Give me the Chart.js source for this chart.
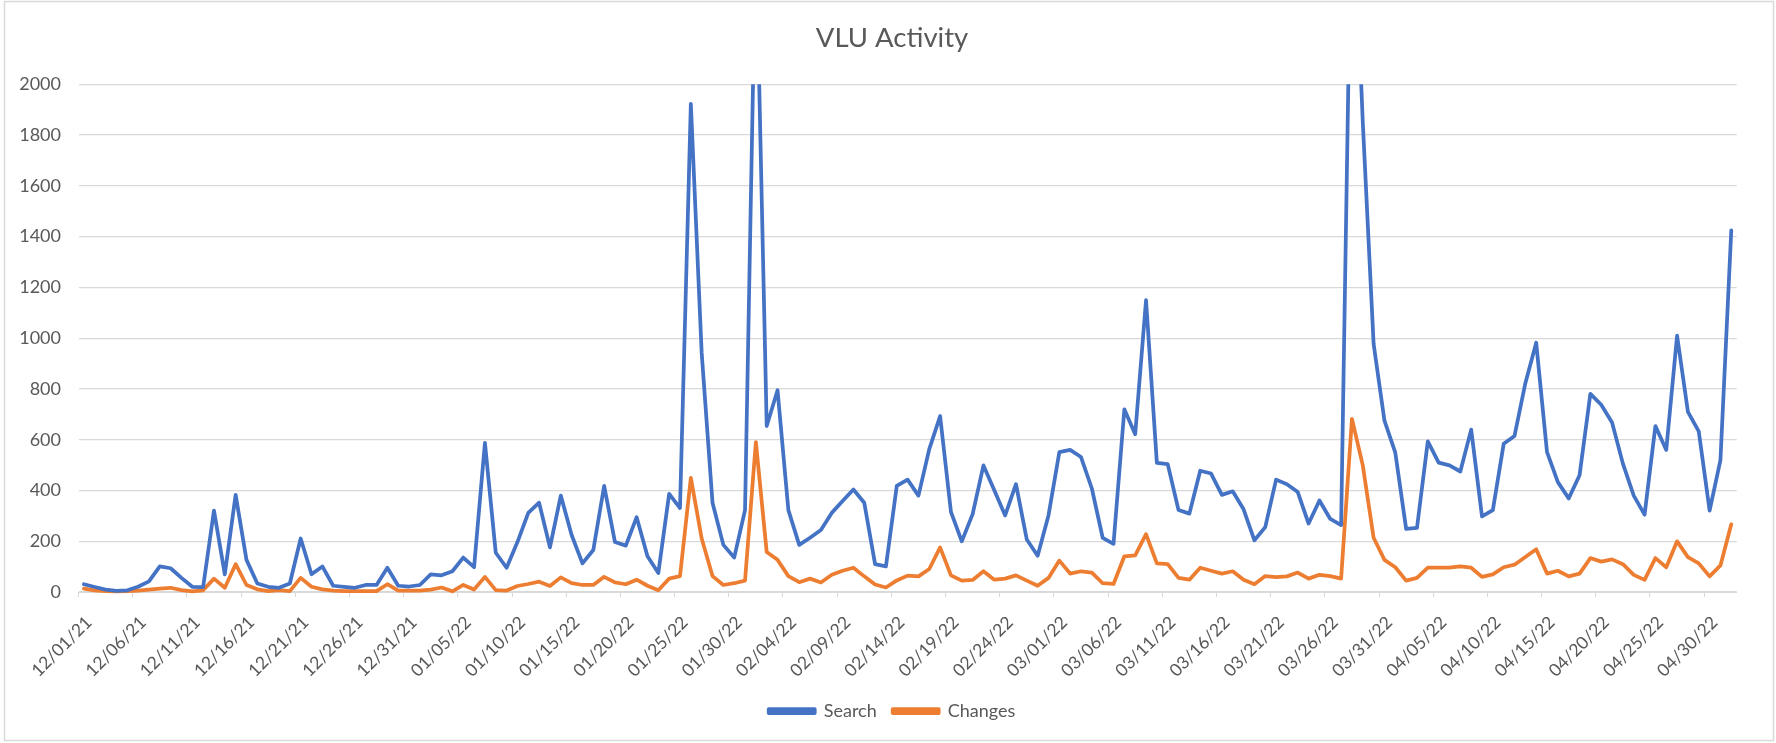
<!DOCTYPE html>
<html>
<head>
<meta charset="utf-8">
<title>VLU Activity</title>
<script src="https://cdn.jsdelivr.net/npm/chart.js@4/dist/chart.umd.min.js"></script>
<style>
    html, body { margin: 0; padding: 0; background: #ffffff; }
    canvas { display: block; }
</style>
</head>
<body>
<canvas id="myChart" width="1776" height="743"></canvas>
<script>
// one point per day, 12/01/21 .. 05/02/22
const startDate = [2021, 11, 1];
const dayCount = 153;

const search = [
    31, 20, 10, 5, 7, 21, 42, 101, 94, 56,
    21, 20, 321, 70, 383, 127, 34, 21, 17, 34,
    211, 70, 101, 25, 21, 17, 28, 28, 96, 25,
    22, 28, 70, 66, 82, 136, 98, 588, 155, 96,
    197, 312, 352, 176, 380, 225, 113, 166, 418, 197,
    183, 295, 141, 75, 387, 331, 1923, 942, 352, 186,
    136, 323, 2600, 654, 795, 323, 186, 214, 245, 312,
    359, 404, 352, 110, 101, 418, 443, 380, 563, 693,
    316, 200, 307, 499, 401, 302, 425, 207, 143, 302,
    551, 560, 532, 408, 214, 190, 720, 622, 1150, 509,
    504, 323, 309, 478, 467, 383, 397, 326, 204, 256,
    443, 425, 394, 270, 361, 288, 264, 2880, 1850, 977,
    675, 549, 249, 253, 594, 510, 499, 475, 640, 298,
    323, 584, 615, 823, 982, 551, 433, 369, 460, 781,
    738, 668, 506, 380, 305, 654, 560, 1010, 710, 633,
    321, 520, 1425
];

const changes = [
    14, 7, 4, 3, 4, 6, 10, 14, 17, 8,
    3, 7, 53, 17, 110, 28, 11, 4, 8, 4,
    56, 21, 11, 6, 4, 4, 4, 4, 31, 6,
    6, 6, 10, 18, 3, 28, 10, 60, 8, 6,
    24, 32, 41, 24, 58, 35, 28, 28, 60, 38,
    31, 49, 25, 7, 53, 63, 450, 211, 63, 28,
    35, 45, 591, 158, 127, 63, 39, 53, 38, 68,
    84, 96, 62, 30, 18, 46, 65, 62, 91, 176,
    66, 45, 48, 82, 49, 53, 66, 45, 25, 56,
    124, 73, 82, 77, 35, 32, 141, 145, 228, 113,
    110, 56, 49, 96, 84, 73, 82, 49, 31, 63,
    59, 62, 77, 53, 68, 63, 53, 682, 499, 214,
    127, 98, 45, 56, 96, 96, 96, 101, 96, 60,
    70, 98, 108, 138, 169, 73, 84, 62, 73, 134,
    120, 129, 110, 68, 48, 134, 98, 200, 138, 113,
    62, 105, 267
];

const yTicks = [0, 200, 400, 600, 800, 1000, 1200, 1400, 1600, 1800, 2000];
const labelEvery = 5;

function pad2(n) { return (n < 10 ? '0' : '') + n; }

const labels = [];
for (let i = 0; i < dayCount; i++) {
    const d = new Date(startDate[0], startDate[1], startDate[2] + i);
    labels.push(pad2(d.getMonth() + 1) + '/' + pad2(d.getDate()) + '/' + pad2(d.getFullYear() % 100));
}

const gridGrey = '#d9d9d9';
const textGrey = '#595959';

// white page + thin grey frame like the Excel chart box
const frame = {
    id: 'frame',
    beforeDraw(chart) {
        const c = chart.ctx;
        c.save();
        c.fillStyle = '#ffffff';
        c.fillRect(0, 0, chart.width, chart.height);
        c.restore();
    },
    afterDraw(chart) {
        const c = chart.ctx;
        c.save();
        c.strokeStyle = gridGrey;
        c.lineWidth = 1.5;
        c.strokeRect(4.5, 1.5, 1769, 739);
        c.restore();
    }
};

const config = {
    type: 'line',
    data: {
        labels: labels,
        datasets: [{
            label: 'Search',
            data: search,
            borderColor: '#4472C4',
            backgroundColor: '#4472C4',
            borderWidth: 3.75,
            pointRadius: 0,
            tension: 0,
            borderJoinStyle: 'round',
            borderCapStyle: 'round',
            clip: {left: 5, top: 0, right: 5, bottom: 5}
        }, {
            label: 'Changes',
            data: changes,
            borderColor: '#ED7D31',
            backgroundColor: '#ED7D31',
            borderWidth: 3.75,
            pointRadius: 0,
            tension: 0,
            borderJoinStyle: 'round',
            borderCapStyle: 'round',
            clip: {left: 5, top: 0, right: 5, bottom: 5}
        }]
    },
    options: {
        responsive: false,
        animation: false,
        devicePixelRatio: 1,
        layout: {
            padding: {left: 8, right: 0, top: 0, bottom: 13}
        },
        plugins: {
            title: {
                display: true,
                text: 'VLU Activity',
                color: textGrey,
                font: {family: 'Lato', size: 27.5, weight: 'normal'},
                padding: {top: 21.5, bottom: 29.8}
            },
            legend: {
                position: 'bottom',
                labels: {
                    boxWidth: 46,
                    boxHeight: 4,
                    padding: 16,
                    color: textGrey,
                    font: {family: 'Lato', size: 18}
                }
            },
            tooltip: {enabled: false}
        },
        scales: {
            x: {
                offset: true,
                grid: {
                    offset: true,
                    drawOnChartArea: false,
                    tickLength: 5,
                    tickColor: ctx => (ctx.index % labelEvery === 0 ? gridGrey : 'rgba(0,0,0,0)')
                },
                border: {color: gridGrey, width: 1},
                ticks: {
                    autoSkip: false,
                    minRotation: 45,
                    maxRotation: 45,
                    padding: 15,
                    labelOffset: 5,
                    color: textGrey,
                    font: {family: 'Lato', size: 17.5},
                    callback: (val, i) => (i % labelEvery === 0 ? labels[i] : '')
                },
                afterFit: s => { s.height = 93.9; }
            },
            y: {
                min: yTicks[0],
                max: yTicks[yTicks.length - 1],
                afterBuildTicks: s => { s.ticks = yTicks.map(v => ({value: v})); },
                grid: {color: gridGrey, lineWidth: 1.3, drawTicks: false},
                border: {display: false},
                ticks: {
                    padding: 17.5,
                    color: textGrey,
                    font: {family: 'Lato', size: 18},
                    callback: v => String(v)
                },
                afterFit: s => { s.width = 70.5; }
            },
            // empty right-hand box so the plot ends where Excel's does
            yPad: {
                position: 'right',
                grid: {drawOnChartArea: false, drawTicks: false},
                border: {display: false},
                ticks: {display: false},
                afterFit: s => { s.width = 39.3; }
            }
        }
    },
    plugins: [frame]
};

const myChart = new Chart(
    document.getElementById('myChart'),
    config
);
</script>
</body>
</html>
